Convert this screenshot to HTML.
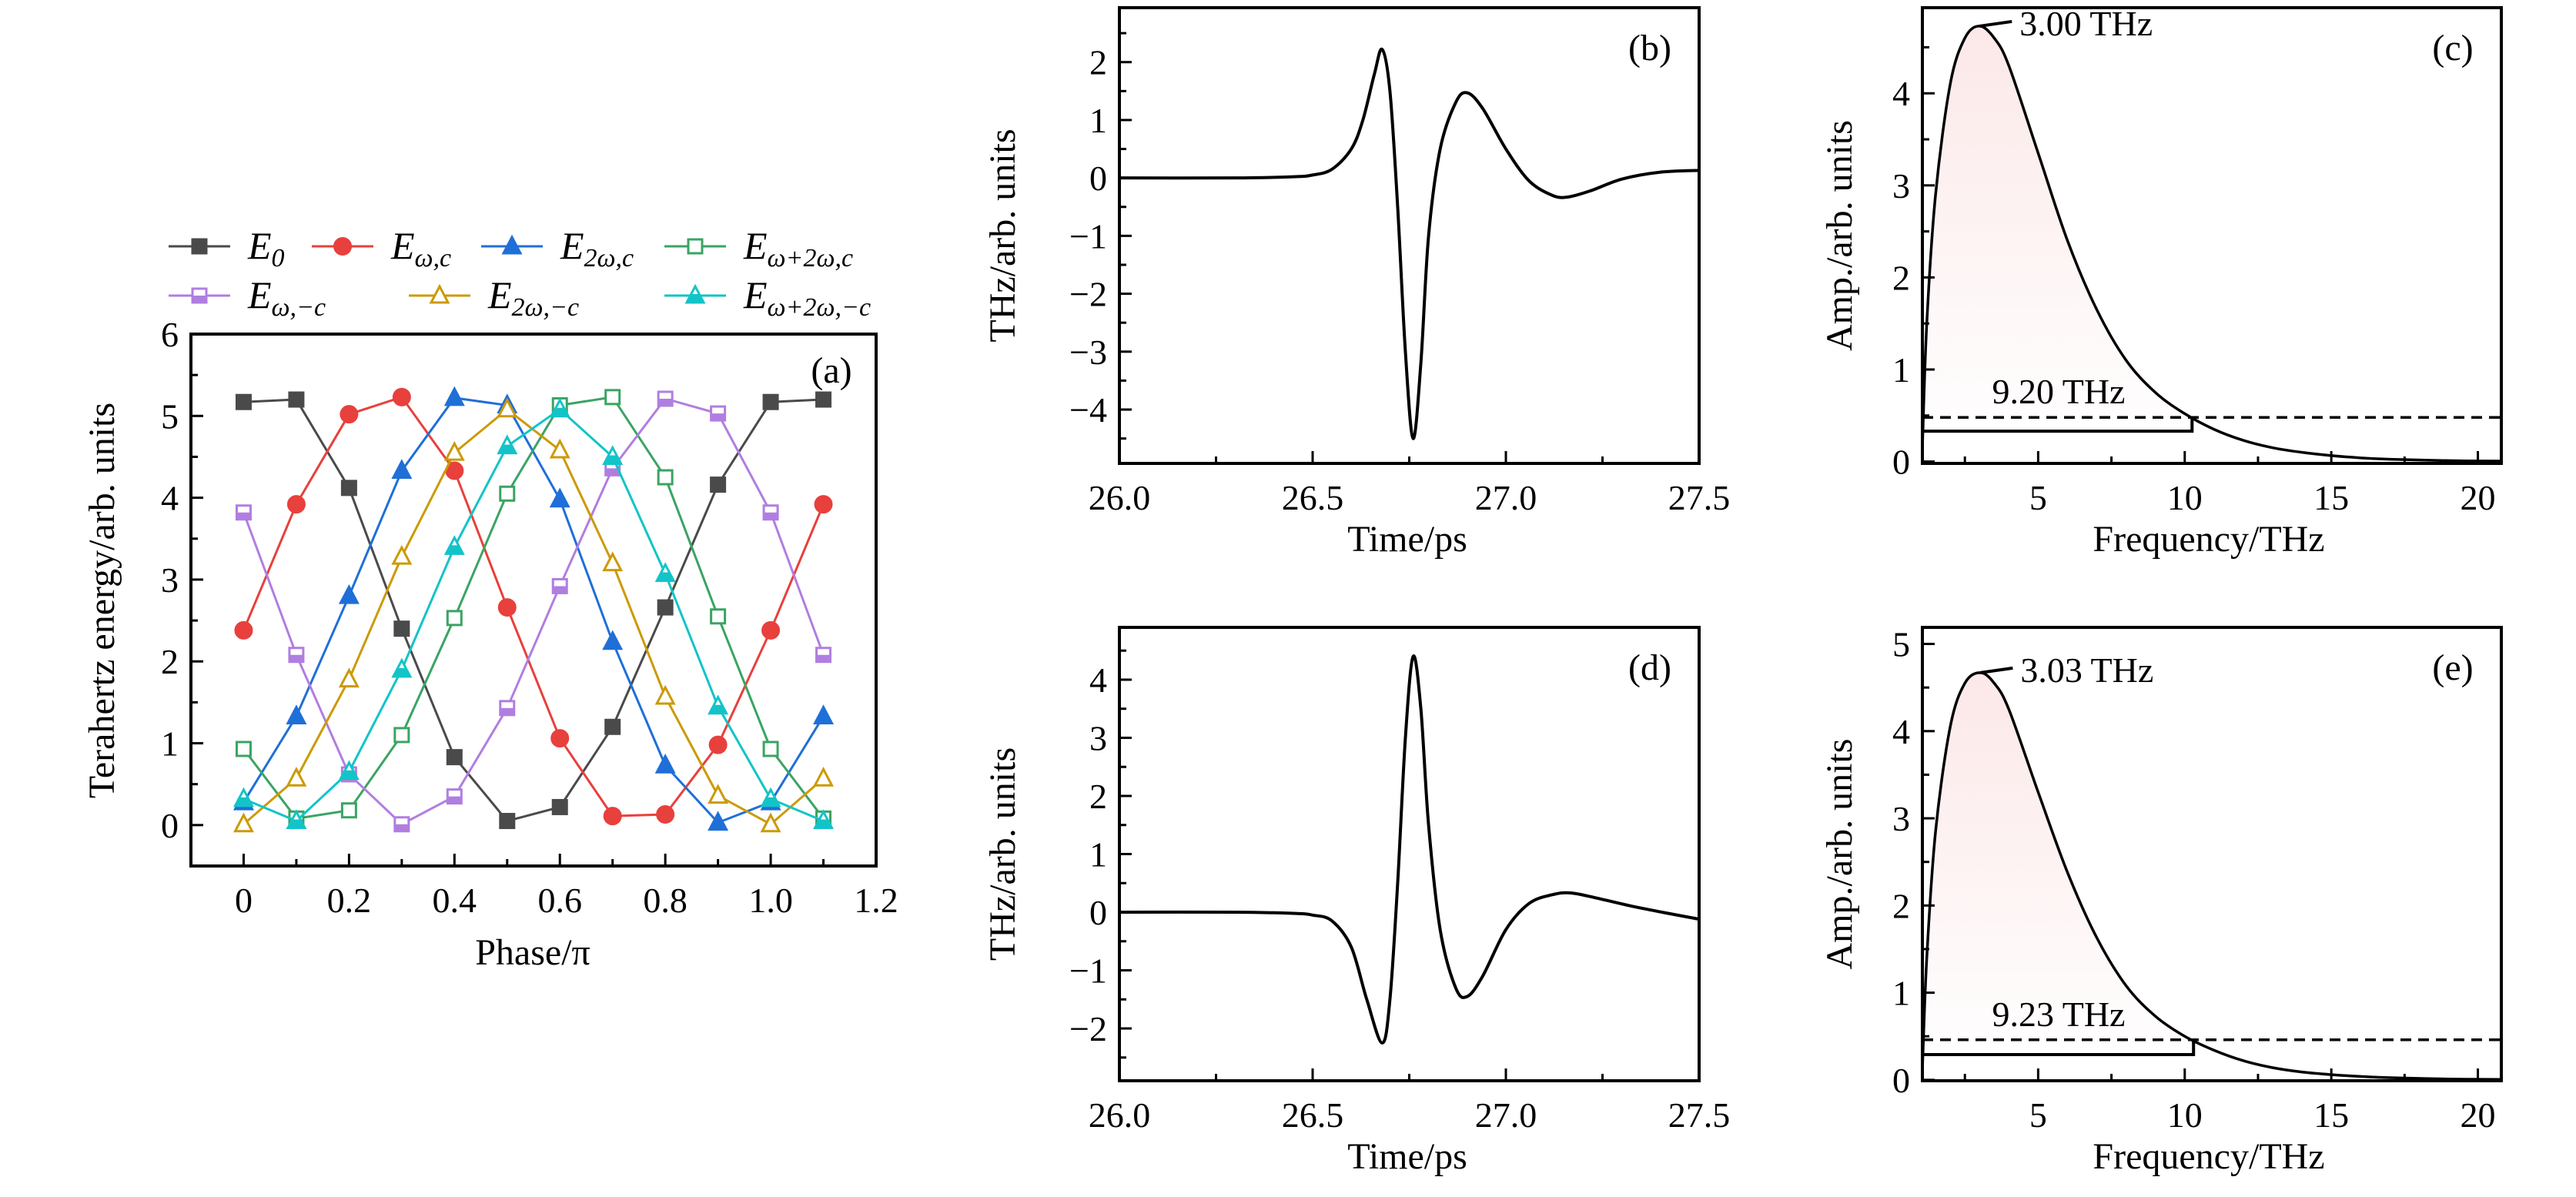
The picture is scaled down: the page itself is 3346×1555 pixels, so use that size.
<!DOCTYPE html>
<html><head><meta charset="utf-8"><style>
html,body{margin:0;padding:0;background:#fff;}
svg{display:block;font-family:"Liberation Serif",serif;}
</style></head><body>
<svg id="fig" width="3346" height="1555" viewBox="0 0 3346 1555" xmlns="http://www.w3.org/2000/svg">
<defs>
<linearGradient id="pinkfade" x1="0" y1="0" x2="0" y2="1">
<stop offset="0" stop-color="#fce8e8"/><stop offset="1" stop-color="#ffffff"/>
</linearGradient>
</defs>
</svg>
<script>
// ---- Panel (a) data ----
const phaseCats = [0,0.1,0.2,0.3,0.4,0.5,0.6,0.7,0.8,0.9,1.0,1.1];
const sE0      = [5.17,5.2,4.12,2.4,0.83,0.05,0.22,1.2,2.66,4.16,5.17,5.2];
const sEwc     = [2.38,3.92,5.02,5.23,4.33,2.66,1.06,0.11,0.13,0.98,2.38,3.92];
const sE2wc    = [0.28,1.33,2.8,4.33,5.22,5.13,3.98,2.24,0.73,0.03,0.28,1.33];
const sEw2wc   = [0.93,0.08,0.18,1.1,2.53,4.05,5.13,5.23,4.25,2.55,0.93,0.08];
const sEwmc    = [3.82,2.08,0.62,0.01,0.35,1.43,2.92,4.36,5.21,5.03,3.82,2.08];
const sE2wmc   = [0.01,0.57,1.78,3.28,4.55,5.08,4.58,3.2,1.57,0.36,0.01,0.57];
const sEw2wmc  = [0.32,0.05,0.65,1.9,3.4,4.63,5.08,4.5,3.07,1.45,0.32,0.05];
const aXTicks = [0,0.2,0.4,0.6,0.8,1.0,1.2];
const aXLabels = ["0","0.2","0.4","0.6","0.8","1.0","1.2"];
const aYTicks = [0,1,2,3,4,5,6];
// ---- Panel (b) data ----
const tB = [26.0,26.3,26.45,26.5,26.55,26.6,26.63,26.66,26.68,26.70,26.72,26.74,26.76,26.78,26.80,26.83,26.87,26.90,26.94,27.0,27.06,27.12,27.16,27.22,27.3,27.4,27.5];
const vB = [0,0,0.02,0.05,0.15,0.5,1.0,1.8,2.22,1.5,-0.5,-3.0,-4.5,-3.2,-1.0,0.5,1.3,1.47,1.2,0.5,-0.05,-0.3,-0.33,-0.22,-0.02,0.1,0.13];
// ---- Panel (d) data ----
const tD = [26.0,26.3,26.45,26.5,26.55,26.6,26.64,26.68,26.70,26.72,26.74,26.76,26.78,26.80,26.83,26.87,26.90,26.94,27.0,27.06,27.12,27.17,27.25,27.35,27.5];
const vD = [0,0,-0.02,-0.05,-0.15,-0.6,-1.5,-2.25,-1.5,0.5,3.0,4.4,3.5,1.5,-0.3,-1.3,-1.45,-1.1,-0.3,0.15,0.3,0.33,0.22,0.07,-0.12];
const timeTicks = [26.0,26.5,27.0,27.5];
const timeLabels = ["26.0","26.5","27.0","27.5"];
// ---- Panel (c) data ----
const fC = [1.05,1.2,1.5,2.0,2.5,3.0,3.5,4,5,6,7,8,9,10,11,12,13,14,15,16,17,19,20.8];
const aC = [0.15,1.5,2.9,4.1,4.6,4.73,4.6,4.3,3.35,2.4,1.65,1.1,0.75,0.52,0.35,0.23,0.15,0.1,0.065,0.04,0.025,0.01,0.005];
// ---- Panel (e) data ----
const fE = [1.05,1.2,1.5,2.0,2.5,3.03,3.5,4,5,6,7,8,9,10,11,12,13,14,15,16,17,19,20.8];
const aE = [0.12,1.4,2.85,4.05,4.55,4.67,4.55,4.25,3.3,2.38,1.63,1.08,0.73,0.5,0.34,0.22,0.14,0.09,0.06,0.04,0.025,0.01,0.005];
const freqTicks = [5,10,15,20];
const cAnn = {peakF:3.0, peakA:4.73, halfA:0.48, baseA:0.33, bwEnd:10.25, peakLabel:"3.00 THz", bwLabel:"9.20 THz"};
const eAnn = {peakF:3.03, peakA:4.67, halfA:0.46, baseA:0.29, bwEnd:10.3, peakLabel:"3.03 THz", bwLabel:"9.23 THz"};

const NS="http://www.w3.org/2000/svg";
const svg=document.getElementById('fig');
function el(tag,attrs,parent){const e=document.createElementNS(NS,tag);for(const k in attrs)e.setAttribute(k,attrs[k]);(parent||svg).appendChild(e);return e;}
function fmt(v){return (v<0?"\u2212":"")+Math.abs(v);}

function makePanel(name,box,xr,yr){
  const g=el('g',{});
  
  
  const sx=v=>box.l+(v-xr[0])/(xr[1]-xr[0])*(box.r-box.l);
  const sy=v=>box.b-(v-yr[0])/(yr[1]-yr[0])*(box.b-box.t);
  return {g,sx,sy,box};
}
function drawFrame(P,xt,xl,xminor,yt,yl,yminor){
  const {g,sx,sy,box}=P;
  const ax=el('g',{},g);
  
  
  xt.forEach((v,i)=>{const x=sx(v);
    el('line',{x1:x,x2:x,y1:box.b,y2:box.b-16,stroke:'#000','stroke-width':3},ax);
    const t=el('text',{x:x,y:box.b+60,'font-size':46,'text-anchor':'middle'},ax);
    
    
    t.textContent=xl[i];});
  xminor.forEach(v=>{const x=sx(v);el('line',{x1:x,x2:x,y1:box.b,y2:box.b-9,stroke:'#000','stroke-width':3},ax);});
  const ay=el('g',{},g);
  
  
  yt.forEach((v,i)=>{const y=sy(v);
    el('line',{x1:box.l,x2:box.l+16,y1:y,y2:y,stroke:'#000','stroke-width':3},ay);
    const t=el('text',{x:box.l-16,y:y+16,'font-size':46,'text-anchor':'end'},ay);
    
    
    t.textContent=yl[i];});
  yminor.forEach(v=>{const y=sy(v);el('line',{x1:box.l,x2:box.l+9,y1:y,y2:y,stroke:'#000','stroke-width':3},ay);});
  const r=el('rect',{x:box.l,y:box.t,width:box.r-box.l,height:box.b-box.t,fill:'none',stroke:'#000','stroke-width':4},g);
  
  
}
function text(P,str,x,y,attrs,name){
  const t=el('text',Object.assign({x:x,y:y,'font-size':48},attrs||{}),P.g);
  
  
  t.textContent=str;return t;
}
function smoothPath(pts){
  let d=`M${pts[0][0]},${pts[0][1]}`;
  for(let i=0;i<pts.length-1;i++){
    const p0=pts[Math.max(0,i-1)],p1=pts[i],p2=pts[i+1],p3=pts[Math.min(pts.length-1,i+2)];
    const c1=[p1[0]+(p2[0]-p0[0])/6,p1[1]+(p2[1]-p0[1])/6];
    const c2=[p2[0]-(p3[0]-p1[0])/6,p2[1]-(p3[1]-p1[1])/6];
    d+=` C${c1[0]},${c1[1]} ${c2[0]},${c2[1]} ${p2[0]},${p2[1]}`;
  }
  return d;
}
function range(a,b,s){const r=[];for(let v=a;v<=b+1e-9;v+=s)r.push(Math.round(v*1000)/1000);return r;}

// ===== Panel (a) =====
const A=makePanel('panel-a',{l:248,r:1138,t:434,b:1125},[-0.1,1.2],[-0.5,6]);
drawFrame(A,aXTicks,aXLabels,range(0.1,1.1,0.2),aYTicks,aYTicks.map(String),range(0.5,5.5,1).concat([-0.5]));
text(A,"(a)",1080,497,{'text-anchor':'middle'},'panel-label-a');
text(A,"Phase/\u03c0",692,1253,{'text-anchor':'middle'},'x-axis-title');
text(A,"Terahertz energy/arb. units",0,0,{'text-anchor':'middle',transform:'translate(148,780) rotate(-90)'},'y-axis-title');
const seriesA=[
 {name:'e0',data:sE0,color:'#4a4a4a',m:'sq',fill:'full'},
 {name:'e-w-c',data:sEwc,color:'#e8403c',m:'ci',fill:'full'},
 {name:'e-2w-c',data:sE2wc,color:'#1f6fd8',m:'tri',fill:'full'},
 {name:'e-w2w-c',data:sEw2wc,color:'#3aa463',m:'sq',fill:'none'},
 {name:'e-w-mc',data:sEwmc,color:'#b07ee0',m:'sq',fill:'half'},
 {name:'e-2w-mc',data:sE2wmc,color:'#cc9a06',m:'tri',fill:'none'},
 {name:'e-w2w-mc',data:sEw2wmc,color:'#12c4c8',m:'tri',fill:'half'}];
function marker(parent,m,fill,color,x,y){
  const f=fill==='full'?color:'#fff';
  let e;
  if(m==='sq'){e=el('rect',{x:x-9,y:y-9,width:18,height:18,fill:f,stroke:color,'stroke-width':3},parent);
    if(fill==='half')el('rect',{x:x-9,y:y,width:18,height:9,fill:color},parent);}
  else if(m==='ci'){e=el('circle',{cx:x,cy:y,r:11,fill:f,stroke:color,'stroke-width':2},parent);}
  else {e=el('polygon',{points:`${x},${y-12} ${x+11},${y+9} ${x-11},${y+9}`,fill:f,stroke:color,'stroke-width':3},parent);
    if(fill==='half')el('polygon',{points:`${x-5},${y-2} ${x+5},${y-2} ${x+11},${y+9} ${x-11},${y+9}`,fill:color},parent);}
  return e;
}
seriesA.forEach(s=>{
  const g=el('g',{},A.g);
  
  
  const pts=s.data.map((v,i)=>[A.sx(phaseCats[i]),A.sy(v)]);
  el('polyline',{points:pts.map(p=>p.join(',')).join(' '),fill:'none',stroke:s.color,'stroke-width':3},g);
  pts.forEach(p=>{const mk=marker(g,s.m,s.fill,s.color,p[0],p[1]);
    
    });
});
// legend
const leg=el('g',{});


const legItems=[
 [0,219,320,'E','0'],[1,405,320,'E','\u03c9,c'],[2,625,320,'E','2\u03c9,c'],[3,863,320,'E','\u03c9+2\u03c9,c'],
 [4,219,384,'E','\u03c9,\u2212c'],[5,531,384,'E','2\u03c9,\u2212c'],[6,863,384,'E','\u03c9+2\u03c9,\u2212c']];
legItems.forEach(it=>{
  const s=seriesA[it[0]];
  const g=el('g',{},leg);
  
  
  el('line',{x1:it[1],x2:it[1]+80,y1:it[2],y2:it[2],stroke:s.color,'stroke-width':3},g);
  marker(g,s.m,s.fill,s.color,it[1]+40,it[2]);
  const t=el('text',{x:it[1]+103,y:it[2]+16,'font-size':50,'font-style':'italic'},g);
  t.textContent=it[3];
  const sub=el('tspan',{'font-size':34,dy:10},t);
  sub.textContent=it[4];
});

// ===== Time panels =====
function timePanel(name,box,yr,yt,yminor,T,V,label){
  const P=makePanel(name,box,[26,27.5],yr);
  drawFrame(P,timeTicks,timeLabels,[26.25,26.75,27.25],yt,yt.map(fmt),yminor);
  const pts=T.map((t,i)=>[P.sx(t),P.sy(V[i])]);
  const p=el('path',{d:smoothPath(pts),fill:'none',stroke:'#000','stroke-width':4},P.g);
  
  
  text(P,label,2143,box.t+68,{'text-anchor':'middle'},'panel-label');
  text(P,"Time/ps",1828,box.b+114,{'text-anchor':'middle'},'x-axis-title');
  text(P,"THz/arb. units",0,0,{'text-anchor':'middle',transform:`translate(1318,${(box.t+box.b)/2}) rotate(-90)`},'y-axis-title');
}
timePanel('panel-b',{l:1454,r:2207,t:10,b:602},[-4.93,2.94],[-4,-3,-2,-1,0,1,2],range(-4.5,2.5,1),tB,vB,'(b)');
timePanel('panel-d',{l:1454,r:2207,t:815,b:1404},[-2.9,4.9],[-2,-1,0,1,2,3,4],range(-2.5,4.5,1),tD,vD,'(d)');

// ===== Spectrum panels =====
function specPanel(name,box,yr,yt,yminor,F,Amp,ann,label){
  const P=makePanel(name,box,[1.05,20.8],yr);
  const pts=F.map((f,i)=>[P.sx(f),P.sy(Amp[i])]);
  const fillPts=pts.filter((p,i)=>F[i]<=ann.bwEnd+0.5);
  const last=fillPts[fillPts.length-1];
  const fp=el('path',{d:smoothPath(fillPts)+` L${last[0]},${P.sy(ann.halfA)} L${P.sx(F[0])},${P.sy(ann.halfA)} Z`,fill:'url(#pinkfade)',stroke:'none'},P.g);
  
  
  drawFrame(P,freqTicks,freqTicks.map(String),[2.5,7.5,12.5,17.5],yt,yt.map(String),yminor);
  const p=el('path',{d:smoothPath(pts),fill:'none',stroke:'#000','stroke-width':3.5},P.g);
  
  
  const dl=el('line',{x1:box.l,x2:box.r,y1:P.sy(ann.halfA),y2:P.sy(ann.halfA),stroke:'#000','stroke-width':3.5,'stroke-dasharray':'14,9'},P.g);
  
  
  const bl=el('polyline',{points:`${P.sx(1.05)},${P.sy(ann.baseA)} ${P.sx(ann.bwEnd)},${P.sy(ann.baseA)} ${P.sx(ann.bwEnd)},${P.sy(ann.halfA)}`,fill:'none',stroke:'#000','stroke-width':4},P.g);
  
  
  const px=P.sx(ann.peakF),py=P.sy(ann.peakA);
  el('line',{x1:px,y1:py,x2:px+42,y2:py-6,stroke:'#000','stroke-width':4},P.g);
  text(P,ann.peakLabel,px+52,py+12,{'font-size':46},'peak-frequency-label');
  text(P,ann.bwLabel,2674,P.sy(ann.halfA)-18,{'font-size':46,'text-anchor':'middle'},'bandwidth-label');
  text(P,label,3186,box.t+68,{'text-anchor':'middle'},'panel-label');
  text(P,"Frequency/THz",2869,box.b+114,{'text-anchor':'middle'},'x-axis-title');
  text(P,"Amp./arb. units",0,0,{'text-anchor':'middle',transform:`translate(2405,${(box.t+box.b)/2}) rotate(-90)`},'y-axis-title');
}
specPanel('panel-c',{l:2497,r:3249,t:10,b:602},[-0.02,4.93],[0,1,2,3,4],range(0.5,4.5,1),fC,aC,cAnn,'(c)');
specPanel('panel-e',{l:2497,r:3249,t:815,b:1404},[-0.01,5.19],[0,1,2,3,4,5],range(0.5,4.5,1),fE,aE,eAnn,'(e)');
</script>
</body></html>
